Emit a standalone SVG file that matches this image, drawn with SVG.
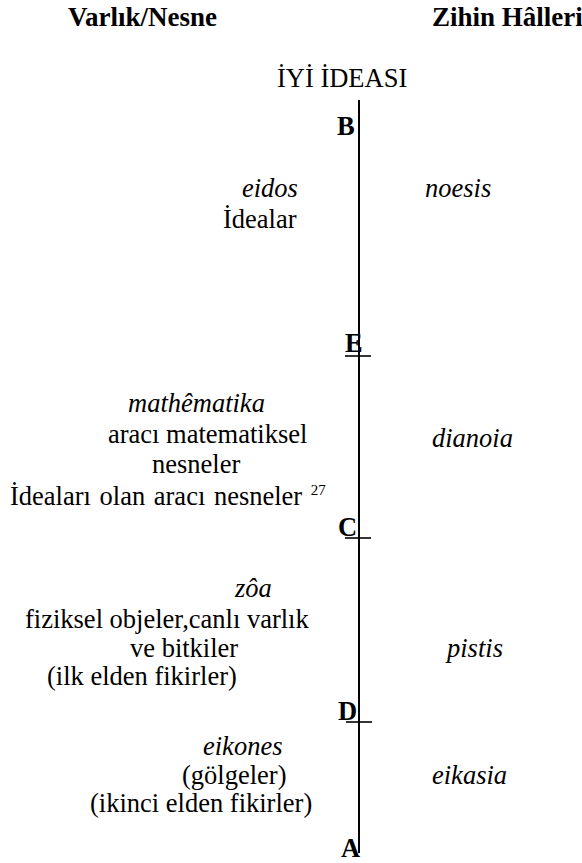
<svg xmlns="http://www.w3.org/2000/svg" width="582" height="863" viewBox="0 0 582 863" font-family="'Liberation Serif', 'Times New Roman', serif">
  <style>
    text { font-family: 'Liberation Serif', 'Times New Roman', serif; font-size: 26.5px; fill: #000; }
    .head { font-weight: bold; font-size: 27px; }
    .pt { font-weight: bold; }
    .it { font-style: italic; }
    .sup { font-size: 15px; }
    .axis { stroke: #000; stroke-width: 2; fill: none; }
    .tick { stroke: #000; stroke-width: 1.6; fill: none; }
  </style>
  <rect width="582" height="863" fill="#fff"/>

  <!-- column headings -->
  <g id="headings">
    <text class="head" x="68" y="26">Varlık/Nesne</text>
    <text class="head" x="432" y="26">Zihin Hâlleri</text>
  </g>

  <!-- divided line with its segment marks -->
  <g id="connectors">
    <line class="axis" x1="359" y1="100" x2="359" y2="853"/>
    <line class="tick" x1="345" y1="356" x2="371" y2="356"/>
    <line class="tick" x1="345" y1="538" x2="371" y2="538"/>
    <line class="tick" x1="346" y1="722" x2="372" y2="722"/>
  </g>

  <g id="top">
    <text x="277" y="87">İYİ İDEASI</text>
  </g>

  <g id="points">
    <text class="pt" x="337" y="135">B</text>
    <text class="pt" x="345" y="352">E</text>
    <text class="pt" x="338" y="536">C</text>
    <text class="pt" x="338" y="720">D</text>
    <text class="pt" x="341" y="857">A</text>
  </g>

  <!-- objects column -->
  <g id="eidos">
    <text class="it" x="242" y="197">eidos</text>
    <text x="223" y="228">İdealar</text>
  </g>
  <g id="mathematika">
    <text class="it" x="128" y="412">mathêmatika</text>
    <text x="108" y="443">aracı matematiksel</text>
    <text x="152" y="473">nesneler</text>
    <text x="10" y="505" word-spacing="2">İdeaları olan aracı nesneler <tspan class="sup" dy="-10">27</tspan></text>
  </g>
  <g id="zoa">
    <text class="it" x="235" y="597">zôa</text>
    <text x="25" y="628">fiziksel objeler,canlı varlık</text>
    <text x="130" y="657">ve bitkiler</text>
    <text x="47" y="685">(ilk elden fikirler)</text>
  </g>
  <g id="eikones">
    <text class="it" x="203" y="755">eikones</text>
    <text x="182" y="784">(gölgeler)</text>
    <text x="90" y="812">(ikinci elden fikirler)</text>
  </g>

  <!-- states-of-mind column -->
  <g id="noesis"><text class="it" x="425" y="197">noesis</text></g>
  <g id="dianoia"><text class="it" x="432" y="447">dianoia</text></g>
  <g id="pistis"><text class="it" x="447" y="657">pistis</text></g>
  <g id="eikasia"><text class="it" x="432" y="784">eikasia</text></g>
</svg>
